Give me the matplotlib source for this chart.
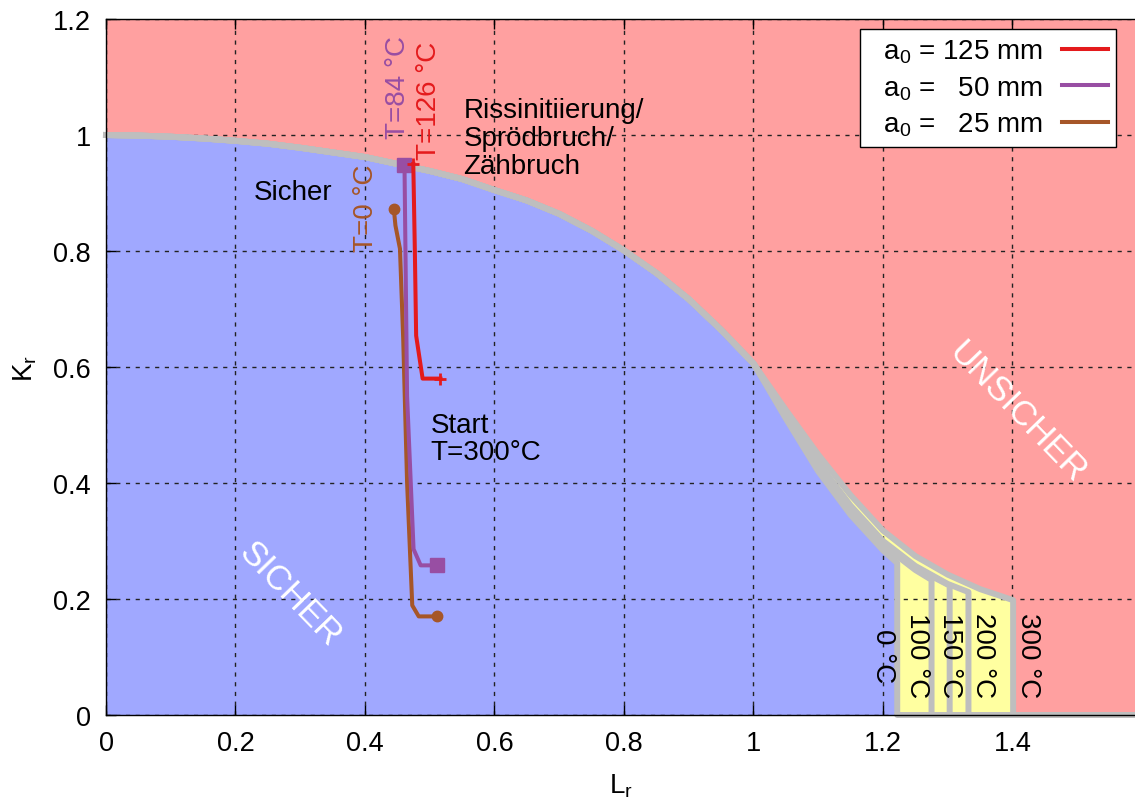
import matplotlib
matplotlib.use('Agg')
import matplotlib.pyplot as plt

plt.rcParams['font.family'] = ['Liberation Sans', 'DejaVu Sans']
plt.rcParams['mathtext.fontset'] = 'custom'
plt.rcParams['mathtext.rm'] = 'Liberation Sans'
plt.rcParams['mathtext.it'] = 'Liberation Sans'
plt.rcParams['mathtext.default'] = 'regular'
plt.rcParams['axes.linewidth'] = 1.0

# ---- failure assessment curves ----
lr_common = [0.0, 0.05, 0.1, 0.15, 0.2, 0.25, 0.3, 0.35, 0.4, 0.45, 0.5, 0.55, 0.6,
             0.65, 0.7, 0.75, 0.8, 0.85, 0.9, 0.95, 1.0]
kr_common = [1.000, 0.999, 0.997, 0.994, 0.990, 0.985, 0.978, 0.970, 0.962, 0.950,
             0.938, 0.924, 0.905, 0.887, 0.864, 0.835, 0.801, 0.762, 0.717, 0.664, 0.606]

temps = ['0 °C', '100 °C', '150 °C', '200 °C', '300 °C']
lr_hi = {
    '0 °C':   [1.05, 1.10, 1.15, 1.20, 1.222],
    '100 °C': [1.05, 1.10, 1.15, 1.20, 1.25, 1.275],
    '150 °C': [1.05, 1.10, 1.15, 1.20, 1.25, 1.303],
    '200 °C': [1.05, 1.10, 1.15, 1.20, 1.25, 1.30, 1.332],
    '300 °C': [1.05, 1.10, 1.15, 1.20, 1.25, 1.30, 1.35, 1.401],
}
kr_hi = {
    '0 °C':   [0.511, 0.420, 0.345, 0.284, 0.262],
    '100 °C': [0.515, 0.428, 0.354, 0.293, 0.250, 0.233],
    '150 °C': [0.517, 0.432, 0.358, 0.297, 0.254, 0.223],
    '200 °C': [0.519, 0.435, 0.361, 0.300, 0.257, 0.226, 0.212],
    '300 °C': [0.526, 0.449, 0.379, 0.318, 0.274, 0.242, 0.217, 0.198],
}
temp_label_lr = [1.200, 1.253, 1.303, 1.354, 1.424]
temp_label_kr = 0.104

# ---- assessment paths ----
series_labels = ['  a$_0$ = 125 mm', '  a$_0$ =   50 mm', '  a$_0$ =   25 mm']
series_colors = ['#e41a1c', '#984ea3', '#a65628']
lr_125 = [0.4746, 0.477, 0.479, 0.489, 0.5166]
kr_125 = [0.950, 0.800, 0.654, 0.580, 0.580]
lr_50 = [0.461, 0.465, 0.475, 0.486, 0.511]
kr_50 = [0.949, 0.550, 0.286, 0.258, 0.258]
lr_25 = [0.4445, 0.447, 0.454, 0.459, 0.465, 0.473, 0.483, 0.511]
kr_25 = [0.873, 0.844, 0.804, 0.649, 0.401, 0.189, 0.170, 0.170]

XMAX = 1.59
RED_BG = '#ffa0a0'
BLUE = '#a0a8ff'
YELLOW = '#ffffa0'
GRAY = '#bebebe'

fig = plt.figure(figsize=(11.35, 8.04), dpi=100)
ax = fig.add_axes([106 / 1135, 88 / 804, (1135 - 105.5) / 1135, 696 / 804])
ax.set_facecolor(RED_BG)
ax.set_xlim(0, XMAX)
ax.set_ylim(0, 1.2)

def full_curve(t):
    xs = lr_common + lr_hi[t]
    ys = kr_common + kr_hi[t]
    return xs, ys

# yellow under the highest curve, blue under the lowest
x3, y3 = full_curve('300 °C')
ax.fill_between(x3 + [x3[-1]], y3 + [0], 0, color=YELLOW, lw=0, zorder=0.5)
x0, y0 = full_curve('0 °C')
ax.fill_between(x0 + [x0[-1]], y0 + [0], 0, color=BLUE, lw=0, zorder=0.6)

# grid
ax.set_axisbelow('line')
ax.grid(True, color='#222222', linestyle=(0, (3, 4)), linewidth=1.0)

# gray curves
for t in temps:
    xs, ys = full_curve(t)
    xs = xs + [xs[-1], XMAX]
    ys = ys + [0, 0]
    ax.plot(xs, ys, color=GRAY, lw=4.3, solid_joinstyle='round', zorder=2, clip_on=False)

# assessment paths
ax.plot(lr_125, kr_125, color=series_colors[0], lw=2.9, marker='+', ms=9, mew=2,
        markevery=[0, len(lr_125) - 1], label=series_labels[0], zorder=4)
ax.plot(lr_50, kr_50, color=series_colors[1], lw=2.9, marker='s', ms=10,
        markevery=[0, len(lr_50) - 1], label=series_labels[1], zorder=3.5)
ax.plot(lr_25, kr_25, color=series_colors[2], lw=2.9, marker='o', ms=7.5,
        markevery=[0, len(lr_25) - 1], label=series_labels[2], zorder=3)

FS = 20
# annotations
ax.text(0.228, 0.902, 'Sicher', fontsize=FS, ha='left', va='center', zorder=5)
ax.text(0.552, 0.995, 'Rissinitiierung/\nSprödbruch/\nZähbruch', fontsize=FS,
        ha='left', va='center', linespacing=1.1, zorder=5)
ax.text(0.501, 0.476, 'Start\nT=300°C', fontsize=FS, ha='left', va='center',
        linespacing=1.05, zorder=5)
ax.text(1.408, 0.523, 'UNSICHER', fontsize=25, color='white', rotation=-46,
        ha='center', va='center', rotation_mode='anchor', zorder=5)
ax.text(0.2834, 0.209, 'SICHER', fontsize=25, color='white', rotation=-46,
        ha='center', va='center', rotation_mode='anchor', zorder=5)
ax.text(0.451, 0.994, 'T=84 °C', fontsize=FS, color=series_colors[1], rotation=90,
        ha='center', va='bottom', zorder=5)
ax.text(0.4996, 0.959, 'T=126 °C', fontsize=FS, color=series_colors[0], rotation=90,
        ha='center', va='bottom', zorder=5)
ax.text(0.4008, 0.800, 'T=0 °C', fontsize=FS, color=series_colors[2], rotation=90,
        ha='center', va='bottom', zorder=5)
for t, xl in zip(temps, temp_label_lr):
    ax.text(xl, temp_label_kr, t, fontsize=FS, rotation=270, ha='center', va='center', zorder=5)

# ticks
ax.set_xticks([0, 0.2, 0.4, 0.6, 0.8, 1.0, 1.2, 1.4])
ax.set_xticklabels(['0', '0.2', '0.4', '0.6', '0.8', '1', '1.2', '1.4'])
ax.set_yticks([0, 0.2, 0.4, 0.6, 0.8, 1.0, 1.2])
ax.set_yticklabels(['0', '0.2', '0.4', '0.6', '0.8', '1', '1.2'])
ax.tick_params(direction='in', length=7, width=1, top=True, right=False,
               labelsize=19.5, pad=11)
ax.spines['right'].set_visible(False)

ax.set_xlabel('L$_r$', fontsize=FS, labelpad=11)
ax.set_ylabel('K$_r$', fontsize=FS, labelpad=10)

leg = ax.legend(loc='upper right', bbox_to_anchor=(0.9815, 0.9856), markerfirst=False,
                handlelength=1.65, handletextpad=0.7, borderpad=0.3, labelspacing=0.33,
                fontsize=20, frameon=True, fancybox=False, framealpha=1,
                edgecolor='black', borderaxespad=0)
leg.get_frame().set_linewidth(1.0)
for h in leg.legend_handles:
    h.set_marker('')
leg.set_zorder(10)

fig.savefig('out.png', dpi=100)
